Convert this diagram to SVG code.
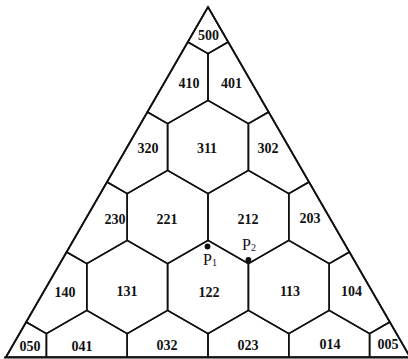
<svg xmlns="http://www.w3.org/2000/svg" width="408" height="359" viewBox="0 0 408 359">
<style>
.cell{fill:none;stroke:#111;stroke-width:1.6;stroke-linejoin:round}
.frame{fill:none;stroke:#111;stroke-width:1.7;stroke-linejoin:miter}
.lbl{font-family:"Liberation Serif","Times New Roman",serif;font-weight:bold;font-size:14px;text-anchor:middle;fill:#111}
.pl{font-family:"Liberation Serif","Times New Roman",serif;font-size:16px;fill:#111}
.sub{font-size:10px}
.dot{fill:#111}
</style>
<rect width="408" height="359" fill="#fff"/>
<g id="n500"><polygon class="cell" points="208,7 228.2,42 208,53.67 187.8,42"/><text class="lbl" x="208.5" y="39.8">500</text></g>
<g id="n410"><polygon class="cell" points="147.4,112 187.8,42 208,53.67 208,100.33 167.6,123.67"/><text class="lbl" x="189" y="87.8">410</text></g>
<g id="n401"><polygon class="cell" points="208,53.67 228.2,42 268.6,112 248.4,123.67 208,100.33"/><text class="lbl" x="231.5" y="87.8">401</text></g>
<g id="n320"><polygon class="cell" points="107,182 147.4,112 167.6,123.67 167.6,170.33 127.2,193.67"/><text class="lbl" x="148" y="152.8">320</text></g>
<g id="n311"><polygon class="cell" points="167.6,123.67 208,100.33 248.4,123.67 248.4,170.33 208,193.67 167.6,170.33"/><text class="lbl" x="207" y="152.8">311</text></g>
<g id="n302"><polygon class="cell" points="248.4,123.67 268.6,112 309,182 288.8,193.67 248.4,170.33"/><text class="lbl" x="268" y="152.8">302</text></g>
<g id="n230"><polygon class="cell" points="66.6,252 107,182 127.2,193.67 127.2,240.33 86.8,263.67"/><text class="lbl" x="115" y="224.3">230</text></g>
<g id="n221"><polygon class="cell" points="127.2,193.67 167.6,170.33 208,193.67 208,240.33 167.6,263.67 127.2,240.33"/><text class="lbl" x="167" y="223.8">221</text></g>
<g id="n212"><polygon class="cell" points="208,193.67 248.4,170.33 288.8,193.67 288.8,240.33 248.4,263.67 208,240.33"/><text class="lbl" x="248" y="223.8">212</text></g>
<g id="n203"><polygon class="cell" points="288.8,193.67 309,182 349.4,252 329.2,263.67 288.8,240.33"/><text class="lbl" x="310" y="222.8">203</text></g>
<g id="n140"><polygon class="cell" points="26.2,322 66.6,252 86.8,263.67 86.8,310.33 46.4,333.67"/><text class="lbl" x="65" y="296.5">140</text></g>
<g id="n131"><polygon class="cell" points="86.8,263.67 127.2,240.33 167.6,263.67 167.6,310.33 127.2,333.67 86.8,310.33"/><text class="lbl" x="127" y="296">131</text></g>
<g id="n122"><polygon class="cell" points="167.6,263.67 208,240.33 248.4,263.67 248.4,310.33 208,333.67 167.6,310.33"/><text class="lbl" x="209" y="296.5">122</text></g>
<g id="n113"><polygon class="cell" points="248.4,263.67 288.8,240.33 329.2,263.67 329.2,310.33 288.8,333.67 248.4,310.33"/><text class="lbl" x="290" y="296">113</text></g>
<g id="n104"><polygon class="cell" points="329.2,263.67 349.4,252 389.8,322 369.6,333.67 329.2,310.33"/><text class="lbl" x="351.5" y="296">104</text></g>
<g id="n050"><polygon class="cell" points="6,357 26.2,322 46.4,333.67 46.4,357"/><text class="lbl" x="30" y="350.8">050</text></g>
<g id="n041"><polygon class="cell" points="46.4,357 46.4,333.67 86.8,310.33 127.2,333.67 127.2,357"/><text class="lbl" x="82" y="350.8">041</text></g>
<g id="n032"><polygon class="cell" points="127.2,357 127.2,333.67 167.6,310.33 208,333.67 208,357"/><text class="lbl" x="167" y="350">032</text></g>
<g id="n023"><polygon class="cell" points="208,357 208,333.67 248.4,310.33 288.8,333.67 288.8,357"/><text class="lbl" x="248" y="349.8">023</text></g>
<g id="n014"><polygon class="cell" points="288.8,357 288.8,333.67 329.2,310.33 369.6,333.67 369.6,357"/><text class="lbl" x="330" y="348.8">014</text></g>
<g id="n005"><polygon class="cell" points="369.6,357 369.6,333.67 389.8,322 410,357"/><text class="lbl" x="388" y="348.8">005</text></g>
<g id="connectors">
<polyline class="frame" points="6,357 208,7 410,357"/>
<line x1="4" y1="357.5" x2="408" y2="357.5" stroke="#111" stroke-width="2.2"/>
</g>
<g id="P1"><circle class="dot" cx="207.5" cy="246.5" r="2.9"/><text class="pl" x="203" y="265">P<tspan class="sub" dy="1">1</tspan></text></g>
<g id="P2"><circle class="dot" cx="248.4" cy="260" r="2.9"/><text class="pl" x="242" y="250">P<tspan class="sub" dy="1">2</tspan></text></g>
</svg>
